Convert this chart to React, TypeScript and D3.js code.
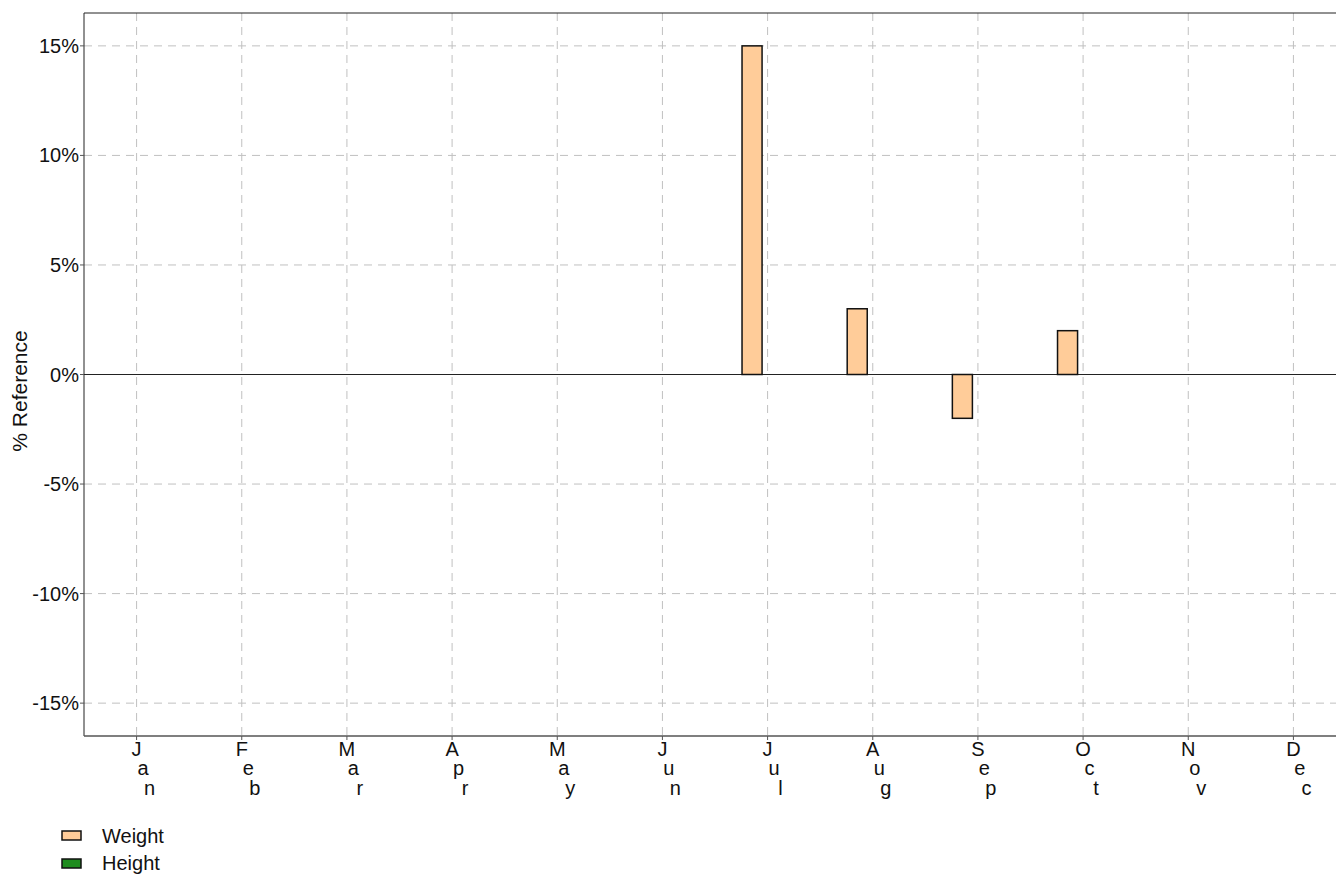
import React from "react";
import * as d3 from "d3";

const months = ["Jan", "Feb", "Mar", "Apr", "May", "Jun", "Jul", "Aug", "Sep", "Oct", "Nov", "Dec"];
const seriesNames = ["Weight", "Height"];
const weightValues = [0, 0, 0, 0, 0, 0, 15, 3, -2, 2, 0, 0];
const heightValues = [0, 0, 0, 0, 0, 0, 0, 0, 0, 0, 0, 0];
const yTicks = [-15, -10, -5, 0, 5, 10, 15];
const seriesColors = ["#ffcc99", "#1e8c1e"];

const W = 1336;
const H = 874;
const margin = { left: 84, top: 13, right: 1346, bottom: 736 };
const FONT = "'Liberation Sans', Arial, sans-serif";

export default function App() {
  const x0 = d3.scaleBand<string>().domain(months).range([margin.left, margin.right]).paddingInner(0).paddingOuter(0);
  const x1 = d3
    .scaleBand<string>()
    .domain(seriesNames)
    .range([0, x0.bandwidth()])
    .paddingInner(0.355)
    .paddingOuter(0.87);
  const y = d3.scaleLinear().domain([-16.5, 16.5]).range([margin.bottom, margin.top]);
  const allSeries = [weightValues, heightValues];
  const center = (m: string) => (x0(m) as number) + x0.bandwidth() / 2;

  return (
    <svg width={W} height={H} style={{ position: "absolute", left: 0, top: 0, background: "#fff" }} fontFamily={FONT}>
      <rect x={0} y={0} width={W} height={H} fill="#fff" />
      {/* grid */}
      <g stroke="#c0c0c0" strokeWidth={1} strokeDasharray="8,6">
        {yTicks.filter((t) => t !== 0).map((t) => (
          <line key={"gy" + t} x1={margin.left} x2={margin.right} y1={y(t)} y2={y(t)} />
        ))}
        {months.map((m) => (
          <line key={"gx" + m} x1={center(m)} x2={center(m)} y1={margin.top} y2={margin.bottom} />
        ))}
      </g>
      {/* zero line */}
      <line x1={margin.left} x2={margin.right} y1={y(0)} y2={y(0)} stroke="#222" strokeWidth={1} />
      {/* bars */}
      {allSeries.map((vals, si) =>
        vals.map((v, i) =>
          v === 0 ? null : (
            <rect
              key={si + "-" + i}
              x={(x0(months[i]) as number) + (x1(seriesNames[si]) as number)}
              width={x1.bandwidth()}
              y={y(Math.max(0, v))}
              height={Math.abs(y(v) - y(0))}
              fill={seriesColors[si]}
              stroke="#111"
              strokeWidth={1.5}
            />
          )
        )
      )}
      {/* frame */}
      <line x1={margin.left} x2={margin.right} y1={margin.top} y2={margin.top} stroke="#222" strokeWidth={1} />
      <line x1={margin.left} x2={margin.left} y1={margin.top} y2={margin.bottom} stroke="#222" strokeWidth={1} />
      <line x1={margin.left} x2={margin.right} y1={margin.bottom} y2={margin.bottom} stroke="#555" strokeWidth={1.5} />
      {/* y ticks */}
      {yTicks.map((t) => (
        <g key={"yt" + t}>
          <line x1={margin.left - 4} x2={margin.left} y1={y(t)} y2={y(t)} stroke="#555" />
          <text x={margin.left - 5} y={y(t)} dy="0.35em" textAnchor="end" fontSize={20} fill="#111">
            {t + "%"}
          </text>
        </g>
      ))}
      {/* x ticks */}
      {months.map((m) => (
        <g key={"xt" + m}>
          <line x1={center(m)} x2={center(m)} y1={margin.bottom} y2={margin.bottom + 4} stroke="#555" />
          <text fontSize={20} fill="#111" textAnchor="middle">
            {m.split("").map((ch, i) => (
              <tspan key={i} x={center(m) + i * 6.5} y={755.5 + i * 19.5}>
                {ch}
              </tspan>
            ))}
          </text>
        </g>
      ))}
      {/* y label */}
      <text transform={`translate(27,391) rotate(-90)`} textAnchor="middle" fontSize={21} fill="#111">
        % Reference
      </text>
      {/* legend */}
      {seriesNames.map((s, i) => (
        <g key={"lg" + s}>
          <rect x={62} y={831 + i * 28} width={19} height={9} fill={seriesColors[i]} stroke="#111" strokeWidth={1.5} />
          <text x={102} y={842.5 + i * 27} fontSize={20} fill="#111">
            {s}
          </text>
        </g>
      ))}
    </svg>
  );
}
